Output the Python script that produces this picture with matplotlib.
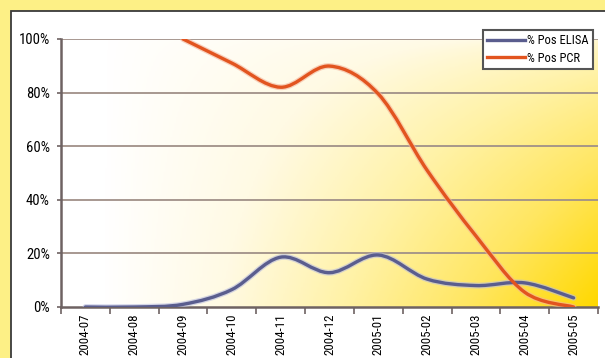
import numpy as np
import matplotlib
matplotlib.use("Agg")
import matplotlib.pyplot as plt
from matplotlib.path import Path
from matplotlib.patches import PathPatch, Rectangle
from matplotlib.lines import Line2D
from matplotlib.colors import LinearSegmentedColormap

# ---- data -------------------------------------------------------------
months = ["2004-07", "2004-08", "2004-09", "2004-10", "2004-11", "2004-12",
          "2005-01", "2005-02", "2005-03", "2005-04", "2005-05"]
pos_elisa = [0.0, 0.0, 0.01, 0.065, 0.186, 0.128, 0.194, 0.104, 0.08, 0.09, 0.034]
pos_pcr = [np.nan, np.nan, 1.00, 0.91, 0.82, 0.899, 0.795, 0.51, 0.265, 0.055, 0.0]
y_ticks = [0.0, 0.2, 0.4, 0.6, 0.8, 1.0]
y_labels = ["0%", "20%", "40%", "60%", "80%", "100%"]
series_names = ["% Pos ELISA", "% Pos PCR"]
series_colors = ["#5a5d8e", "#e2541f"]

FONT = ["Roboto Condensed", "Liberation Sans", "DejaVu Sans"]
plt.rcParams["font.family"] = FONT

W, H = 605, 358
fig = plt.figure(figsize=(W / 100, H / 100), dpi=100)
fig.patch.set_facecolor("#fdf086")

# white inner panel with dark frame
panel = Rectangle((11 / W, -0.1), 1.2, 1 - 11 / H + 0.1,
                  transform=fig.transFigure, facecolor="white",
                  edgecolor="#3a3a3a", linewidth=1.3, zorder=-5)
fig.patches.append(panel)

ax = fig.add_axes([61 / W, (H - 307) / H, (598 - 61) / W, (307 - 39) / H])
ax.set_zorder(2)
ax.set_facecolor("none")
n = len(months)

# white -> yellow background wash, strongest toward the lower right
gx = np.linspace(0, 1, 300)
gy = np.linspace(0, 1, 200)          # 0 = bottom, 1 = top
GX, GY = np.meshgrid(gx, gy)
t = np.clip(np.clip(GX - 0.08, 0, None) / 0.92, 0, 1) ** 0.95 \
    * (0.3 + 0.7 * (1 - GY) ** 0.6)
cmap = LinearSegmentedColormap.from_list(
    "wash", ["#ffffff", "#fffae4", "#fff2a6", "#ffe660", "#ffd800"])
ax.imshow(t, cmap=cmap, vmin=0, vmax=1, origin="lower",
          extent=(-0.5, n - 0.5, 0.0, 1.0),
          aspect="auto", zorder=0, interpolation="bilinear")
ax.set_xlim(-0.5, n - 0.5)
ax.set_ylim(0, 1.0)

# grid lines
for yv in y_ticks[1:]:
    ax.axhline(yv, color="#a09088", linewidth=1.3, zorder=1)

for s in ["top", "right"]:
    ax.spines[s].set_visible(False)
for s in ["left", "bottom"]:
    ax.spines[s].set_color("#6e6262")
    ax.spines[s].set_linewidth(1.8)
    ax.spines[s].set_zorder(3)

ax.set_yticks(y_ticks)
ax.set_yticklabels(y_labels, fontsize=10.5)
ax.tick_params(axis="y", length=3, width=1.2, color="#6e6262", pad=5)

xpos = np.arange(n)
ax.set_xticks(xpos)
ax.set_xticklabels(months, rotation=90, fontsize=9.3, va="top", ha="center")
ax.tick_params(axis="x", which="major", length=0, pad=5)
ax.set_xticks(np.arange(-0.5, n, 1.0), minor=True)
ax.tick_params(axis="x", which="minor", length=5, width=1.2, color="#6e6262")


def smooth_path(xs, ys):
    """Bezier curve through the points, spreadsheet-style smoothing."""
    pts = np.column_stack([xs, ys])
    m = len(pts)
    verts = [tuple(pts[0])]
    codes = [Path.MOVETO]
    for i in range(m - 1):
        p0 = pts[i - 1] if i > 0 else pts[i]
        p1 = pts[i]
        p2 = pts[i + 1]
        p3 = pts[i + 2] if i + 2 < m else pts[i + 1]
        c1 = p1 + (p2 - p0) / 6.0
        c2 = p2 - (p3 - p1) / 6.0
        verts += [tuple(c1), tuple(c2), tuple(p2)]
        codes += [Path.CURVE4] * 3
    return Path(verts, codes)


for vals, color, halo in zip([pos_elisa, pos_pcr], series_colors,
                             ["#b8bce0", "#f4b49a"]):
    v = np.asarray(vals, dtype=float)
    ok = ~np.isnan(v)
    p = smooth_path(xpos[ok], v[ok])
    ax.add_patch(PathPatch(p, facecolor="none", edgecolor=halo, linewidth=4.2,
                           alpha=0.6, zorder=4, capstyle="round"))
    ax.add_patch(PathPatch(p, facecolor="none", edgecolor=color, linewidth=2.4,
                           zorder=5, capstyle="round", joinstyle="round"))

handles = [Line2D([], [], color=c, linewidth=2.4) for c in series_colors]
leg = ax.legend(handles, series_names, loc="upper right",
                bbox_to_anchor=((593 - 61) / 537, (307 - 30) / 268),
                fontsize=9, frameon=True, fancybox=False, framealpha=1,
                edgecolor="#555555", handlelength=3.0, handletextpad=0.2,
                borderpad=0.35, labelspacing=0.35, borderaxespad=0)
leg.get_frame().set_linewidth(1.5)
leg.set_zorder(10)

fig.savefig("out.png", dpi=100, facecolor=fig.get_facecolor())
